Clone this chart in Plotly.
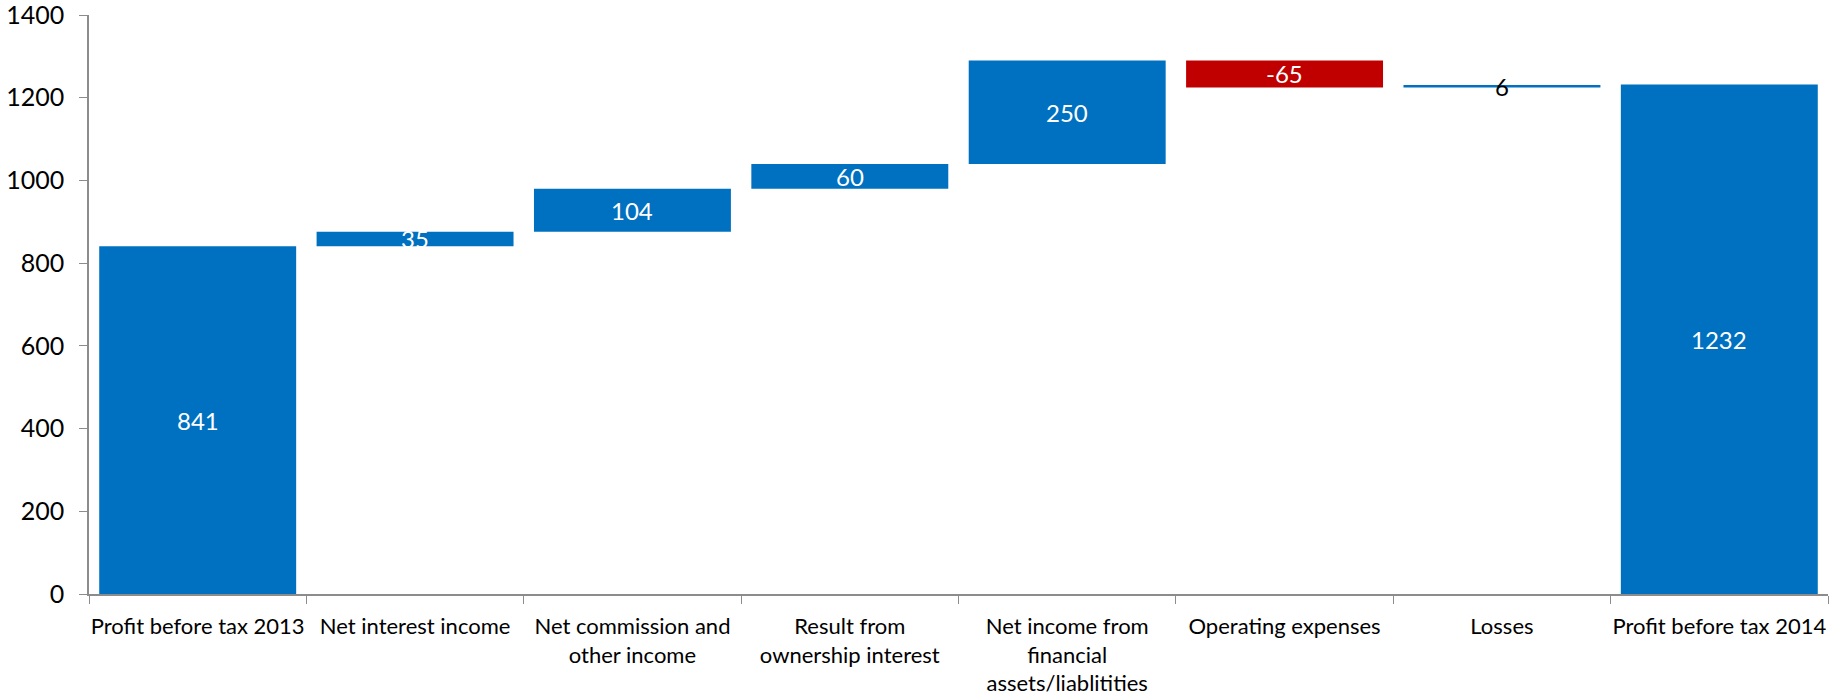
import plotly.graph_objects as go

categories = [
    "Profit before tax 2013",
    "Net interest income",
    "Net commission and<br>other income",
    "Result from<br>ownership interest",
    "Net income from<br>financial<br>assets/liablitities",
    "Operating expenses",
    "Losses",
    "Profit before tax 2014",
]
values = [841, 35, 104, 60, 250, -65, 6, 1232]
measures = ["absolute", "relative", "relative", "relative", "relative", "relative", "relative", "absolute"]
label_colors = ["white", "white", "white", "white", "white", "white", "black", "white"]

BLUE = "#0070C0"
RED = "#C00000"
FONT = "Lato"

fig = go.Figure()
fig.add_trace(go.Waterfall(
    x=categories,
    y=values,
    measure=measures,
    increasing=dict(marker=dict(color=BLUE)),
    decreasing=dict(marker=dict(color=RED)),
    totals=dict(marker=dict(color=BLUE)),
    connector=dict(visible=False),
    textposition="none",
    hoverinfo="x+y",
))

# label annotations at the middle of each bar, computed from data
running = 0
for cat, val, m, col in zip(categories, values, measures, label_colors):
    if m == "absolute":
        base, top = 0, val
        running = val
    else:
        base, top = running, running + val
        running = top
    fig.add_annotation(
        x=cat, y=(base + top) / 2, text=str(val), showarrow=False,
        font=dict(family=FONT, size=24, color=col),
        xref="x", yref="y",
    )

fig.update_layout(
    width=1845, height=696,
    margin=dict(l=89, r=17, t=15, b=102),
    paper_bgcolor="white", plot_bgcolor="white",
    showlegend=False,
    waterfallgap=0.094,
    font=dict(family=FONT, size=22, color="black"),
)
fig.update_xaxes(
    type="category",
    range=[-0.5, 7.5],
    showline=True, linecolor="#8c8c8c", linewidth=1.5,
    ticks="outside", tickson="boundaries", ticklen=8, tickcolor="#8c8c8c",
    showgrid=False, zeroline=False,
    tickfont=dict(family=FONT, size=22, color="black"),
    tickangle=0,
    ticklabelstandoff=12,
    automargin=False,
    ticklabeloverflow="allow",
)
fig.update_yaxes(
    range=[0, 1400], dtick=200,
    showline=True, linecolor="#8c8c8c", linewidth=1.5,
    ticks="outside", ticklen=8, tickcolor="#8c8c8c",
    showgrid=False, zeroline=False,
    tickfont=dict(family=FONT, size=25, color="black"),
    ticklabelstandoff=10,
    automargin=False,
    ticklabeloverflow="allow",
)

fig.write_html("out.html")
